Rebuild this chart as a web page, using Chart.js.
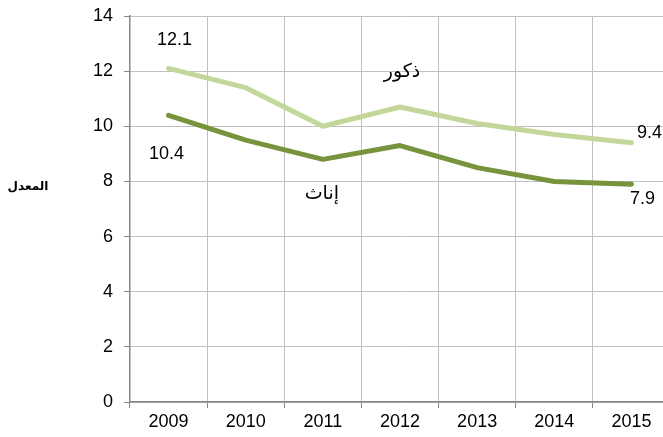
<!DOCTYPE html>
<html><head><meta charset="utf-8">
<script src="https://cdn.jsdelivr.net/npm/chart.js@4"></script>
<style>html,body{margin:0;padding:0;overflow:hidden;background:#fff;width:663px;height:437px}#w{width:672px;height:437px;position:relative}</style>
</head><body><div id="w"><canvas id="c" width="672" height="437"></canvas></div>
<script>
const years = ['2009','2010','2011','2012','2013','2014','2015'];
const males = [12.1, 11.4, 10.0, 10.7, 10.1, 9.7, 9.4];
const females = [10.4, 9.5, 8.8, 9.3, 8.5, 8.0, 7.9];
const yTicks = [0,2,4,6,8,10,12,14];
const maleName = 'ذكور';
const femaleName = 'إناث';
const axisTitle = 'المعدل';

const FONT = '"Liberation Sans", Arial, sans-serif';
const annot = {
  id:'annot',
  afterDatasetsDraw(chart){
    const ctx = chart.ctx, x = chart.scales.x, y = chart.scales.y;
    ctx.save();
    ctx.fillStyle = '#000';
    ctx.font = '18px ' + FONT;
    ctx.textAlign = 'center'; ctx.textBaseline = 'middle';
    const n = years.length - 1;
    ctx.fillText(males[0].toFixed(1), x.getPixelForValue(0)+6, y.getPixelForValue(males[0]) - 28);
    ctx.fillText(females[0].toFixed(1), x.getPixelForValue(0)-2, y.getPixelForValue(females[0]) + 39);
    ctx.fillText(males[n].toFixed(1), x.getPixelForValue(n)+18, y.getPixelForValue(males[n]) - 10);
    ctx.fillText(females[n].toFixed(1), x.getPixelForValue(n)+11, y.getPixelForValue(females[n]) + 15);
    ctx.font = '19px "DejaVu Sans", ' + FONT;
    ctx.fillText(maleName, x.getPixelForValue(3)+2, y.getPixelForValue(12) + 1);
    ctx.fillText(femaleName, x.getPixelForValue(2)-1, y.getPixelForValue(8) + 13);
    ctx.font = 'bold 12px "DejaVu Sans", ' + FONT;
    ctx.fillText(axisTitle, 28, y.getPixelForValue(8) + 5);
    ctx.restore();
  }
};

new Chart(document.getElementById('c'), {
  type:'line',
  data:{labels:years, datasets:[
    {label:maleName, data:males, borderColor:'#c4d79b', borderWidth:5, pointRadius:0, tension:0, borderCapStyle:'round', borderJoinStyle:'round'},
    {label:femaleName, data:females, borderColor:'#77933c', borderWidth:5, pointRadius:0, tension:0, borderCapStyle:'round', borderJoinStyle:'round'}
  ]},
  options:{
    responsive:false, animation:false, devicePixelRatio:1,
    layout:{padding:{top:16,right:2,left:0,bottom:0}},
    plugins:{legend:{display:false}, tooltip:{enabled:false}},
    scales:{
      x:{offset:true,
        grid:{offset:true, color:'#c0c0c0', lineWidth:1, tickLength:6, tickColor:'#868686'},
        border:{color:'#868686', width:1.5},
        ticks:{color:'#000', font:{family:FONT, size:18}, padding:3, maxRotation:0},
        afterFit(s){s.height = 35; s.paddingLeft = 0; s.paddingRight = 0;}
      },
      y:{min:0,max:14,
        afterBuildTicks(s){s.ticks = yTicks.map(v=>({value:v}));},
        grid:{color:'#c0c0c0', lineWidth:1, tickLength:6, tickColor:'#868686'},
        border:{color:'#868686', width:1.5},
        ticks:{color:'#000', font:{family:FONT, size:18}, padding:11},
        afterFit(s){s.width = 130; s.paddingTop = 0; s.paddingBottom = 0;}
      }
    }
  },
  plugins:[annot]
});
</script></body></html>
